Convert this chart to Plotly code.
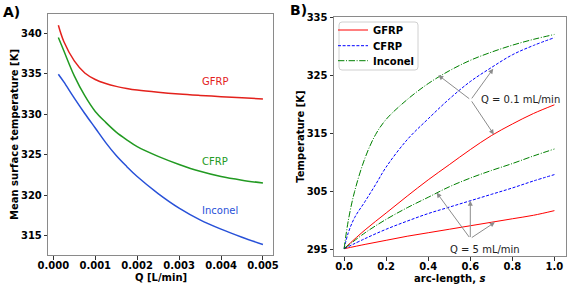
import plotly.graph_objects as go

# ---------------- Panel A data ----------------
q_lpm = [0.00012, 0.00025, 0.0005, 0.00075, 0.001, 0.00125, 0.0015, 0.00175,
         0.002, 0.0025, 0.003, 0.0035, 0.004, 0.0045, 0.005]
gfrp_mean = [341.0, 339.0, 336.6, 335.1, 334.3, 333.8, 333.45, 333.2,
             333.0, 332.72, 332.5, 332.33, 332.18, 332.04, 331.9]
cfrp_mean = [339.5, 337.85, 334.75, 332.3, 330.35, 329.0, 327.8, 326.85,
             326.0, 324.8, 323.8, 322.95, 322.3, 321.85, 321.5]
inconel_mean = [334.95, 334.0, 332.0, 330.1, 328.3, 326.5, 324.9, 323.55,
                322.3, 320.2, 318.4, 316.95, 315.8, 314.8, 313.9]
label_names = ["GFRP", "CFRP", "Inconel"]
label_x = [0.0035, 0.0035, 0.0035]
label_y = [334.1, 324.15, 318.1]

# ---------------- Panel B data ----------------
s_fine = [0, 0.02, 0.05, 0.1, 0.15, 0.2, 0.3, 0.4, 0.5, 0.6, 0.7, 0.8, 0.9, 1.0]
inconel_q01 = [295.15, 300.0, 305.0, 310.8, 314.8, 317.4, 320.8, 323.55,
               325.75, 327.55, 328.95, 330.15, 331.15, 332.0]
cfrp_q01 = [295.15, 297.9, 300.5, 303.3, 306.2, 309.2, 313.9, 317.5,
            320.9, 323.9, 326.3, 328.5, 330.1, 331.45]
s_coarse = [0, 0.1, 0.2, 0.3, 0.4, 0.5, 0.6, 0.7, 0.8, 0.9, 1.0]
gfrp_q01 = [295.15, 298.4, 301.3, 304.2, 307.0, 309.6, 312.2, 314.6,
            316.6, 318.4, 319.9]
inconel_q5 = [295.15, 297.9, 300.2, 302.2, 304.0, 305.8, 307.3, 308.6,
              309.8, 311.1, 312.3]
cfrp_q5 = [295.15, 296.9, 298.5, 299.9, 301.2, 302.3, 303.4, 304.5,
           305.6, 306.8, 307.9]
gfrp_q5 = [295.15, 295.9, 296.6, 297.3, 297.9, 298.5, 299.1, 299.7,
           300.3, 300.9, 301.7]

ann_q01_text = "Q = 0.1 mL/min"
ann_q01_origin = (0.602, 320.75)
ann_q01_tips = [(0.448, 325.0), (0.709, 326.1), (0.712, 314.8)]
ann_q5_text = "Q = 5 mL/min"
ann_q5_origin = (0.6, 296.9)
ann_q5_tips = [(0.44, 304.8), (0.6, 303.4), (0.717, 299.7)]

FONT = "DejaVu Sans"
c_red_a, c_green_a, c_blue_a = "#e3211c", "#229a22", "#2851d8"
c_red_b, c_blue_b, c_green_b = "#ff0000", "#0000ff", "#008000"
DASH = "3px,1.6px"
DASHDOT = "6.4px,1.6px,1px,1.6px"
W, H = 571, 286

fig = go.Figure()

# Panel A lines
for y, col in [(gfrp_mean, c_red_a), (cfrp_mean, c_green_a), (inconel_mean, c_blue_a)]:
    fig.add_trace(go.Scatter(x=q_lpm, y=y, mode="lines",
                             line=dict(color=col, width=1.5, shape="spline", smoothing=1.0),
                             xaxis="x", yaxis="y", showlegend=False))

# Panel B lines
fig.add_trace(go.Scatter(x=s_coarse, y=gfrp_q01, mode="lines", name="GFRP",
                         line=dict(color=c_red_b, width=1, shape="spline"),
                         xaxis="x2", yaxis="y2", legend="legend"))
fig.add_trace(go.Scatter(x=s_fine, y=cfrp_q01, mode="lines", name="CFRP",
                         line=dict(color=c_blue_b, width=1, dash=DASH, shape="spline"),
                         xaxis="x2", yaxis="y2", legend="legend2"))
fig.add_trace(go.Scatter(x=s_fine, y=inconel_q01, mode="lines", name="Inconel",
                         line=dict(color=c_green_b, width=1, dash=DASHDOT, shape="spline"),
                         xaxis="x2", yaxis="y2", legend="legend3"))
fig.add_trace(go.Scatter(x=s_coarse, y=gfrp_q5, mode="lines", showlegend=False,
                         line=dict(color=c_red_b, width=1, shape="spline"),
                         xaxis="x2", yaxis="y2"))
fig.add_trace(go.Scatter(x=s_coarse, y=cfrp_q5, mode="lines", showlegend=False,
                         line=dict(color=c_blue_b, width=1, dash=DASH, shape="spline"),
                         xaxis="x2", yaxis="y2"))
fig.add_trace(go.Scatter(x=s_coarse, y=inconel_q5, mode="lines", showlegend=False,
                         line=dict(color=c_green_b, width=1, dash=DASHDOT, shape="spline"),
                         xaxis="x2", yaxis="y2"))

annotations = []
for name, x, y, col in zip(label_names, label_x, label_y, [c_red_a, c_green_a, c_blue_a]):
    annotations.append(dict(x=x, y=y, xref="x", yref="y", text=name, showarrow=False,
                            xanchor="left", yanchor="middle",
                            font=dict(family=FONT, size=10, color=col)))

for origin, tips in [(ann_q01_origin, ann_q01_tips), (ann_q5_origin, ann_q5_tips)]:
    for tx, ty in tips:
        annotations.append(dict(x=tx, y=ty, ax=origin[0], ay=origin[1], xref="x2", yref="y2",
                                axref="x2", ayref="y2", text="", showarrow=True,
                                arrowhead=2, arrowsize=1, arrowwidth=1, arrowcolor="#8c8c8c",
                                standoff=0, startstandoff=0))
annotations.append(dict(x=0.643, y=320.8, xref="x2", yref="y2", text=ann_q01_text,
                        showarrow=False, xanchor="left", yanchor="middle",
                        font=dict(family=FONT, size=10, color="#222")))
annotations.append(dict(x=0.67, y=295.1, xref="x2", yref="y2", text=ann_q5_text,
                        showarrow=False, xanchor="center", yanchor="middle",
                        font=dict(family=FONT, size=10, color="#222")))
annotations.append(dict(x=11 / W, y=1 - 11.5 / H, xref="paper", yref="paper", text="<b>A)</b>",
                        showarrow=False, xanchor="center", yanchor="middle",
                        font=dict(family=FONT, size=14, color="black")))
annotations.append(dict(x=298 / W, y=1 - 10 / H, xref="paper", yref="paper", text="<b>B)</b>",
                        showarrow=False, xanchor="center", yanchor="middle",
                        font=dict(family=FONT, size=14, color="black")))
# x-axis titles
annotations.append(dict(x=160.5 / W, y=1 - 277 / H, xref="paper", yref="paper",
                        text="<b>Q [L/min]</b>", showarrow=False, xanchor="center",
                        yanchor="middle", font=dict(family=FONT, size=10, color="black")))
annotations.append(dict(x=449 / W, y=1 - 278 / H, xref="paper", yref="paper",
                        text="<b>arc-length, <i>s</i></b>", showarrow=False, xanchor="center",
                        yanchor="middle", font=dict(family=FONT, size=10, color="black")))

tickfont = dict(family=FONT, size=10, color="black", weight="bold")
titlefont = dict(family=FONT, size=10, color="black", weight="bold")
axis_common = dict(showline=True, linecolor="#8a8a8a", linewidth=1, mirror=True,
                   ticks="outside", ticklen=3.5, tickwidth=0.8, tickcolor="#333",
                   showgrid=False, zeroline=False, tickfont=tickfont, automargin=False)

legend_font = dict(family=FONT, size=10, color="black", weight="bold")


def leg(ycenter):
    return dict(x=333 / W, y=1 - ycenter / H, xanchor="left", yanchor="middle",
                bgcolor="rgba(0,0,0,0)", borderwidth=0, font=legend_font, itemwidth=30)


# rounded legend frame (paper coordinates)
lx0, lx1, ly0, ly1 = 339 / W, 418 / W, 1 - 70 / H, 1 - 22 / H
rx, ry = 3 / W, 3 / H
frame_path = (f"M {lx0 + rx} {ly1} L {lx1 - rx} {ly1} Q {lx1} {ly1} {lx1} {ly1 - ry} "
              f"L {lx1} {ly0 + ry} Q {lx1} {ly0} {lx1 - rx} {ly0} "
              f"L {lx0 + rx} {ly0} Q {lx0} {ly0} {lx0} {ly0 + ry} "
              f"L {lx0} {ly1 - ry} Q {lx0} {ly1} {lx0 + rx} {ly1} Z")

fig.update_layout(
    width=W, height=H,
    margin=dict(l=0, r=0, t=0, b=0),
    paper_bgcolor="white", plot_bgcolor="white",
    font=dict(family=FONT, size=10, color="black"),
    xaxis=dict(domain=[48.3 / W, 273 / W], range=[-0.00012, 0.00524],
               tickvals=[0, 0.001, 0.002, 0.003, 0.004, 0.005],
               ticktext=["0.000", "0.001", "0.002", "0.003", "0.004", "0.005"],
               ticklabelstandoff=-3, anchor="y", **axis_common),
    yaxis=dict(domain=[31 / H, 272 / H], range=[312.6, 342.4],
               tickvals=[315, 320, 325, 330, 335, 340],
               title=dict(text="Mean surface temperature [K]", font=titlefont, standoff=0),
               anchor="x", **axis_common),
    xaxis2=dict(domain=[334 / W, 566 / W], range=[-0.048, 1.055],
                tickvals=[0, 0.2, 0.4, 0.6, 0.8, 1.0],
                ticktext=["0.0", "0.2", "0.4", "0.6", "0.8", "1.0"],
                ticklabelstandoff=-3, anchor="y2", **axis_common),
    yaxis2=dict(domain=[30 / H, 269 / H], range=[293.9, 335],
                tickvals=[295, 305, 315, 325, 335],
                title=dict(text="Temperature [K]", font=titlefont, standoff=0),
                anchor="x2", **axis_common),
    legend=leg(30),
    legend2=leg(45.7),
    legend3=leg(60.7),
    shapes=[dict(type="path", xref="paper", yref="paper", path=frame_path,
                 line=dict(color="#d0d0d0", width=1), fillcolor="rgba(255,255,255,0.85)",
                 layer="above")],
    annotations=annotations,
    showlegend=True,
)

fig.write_html("out.html", config={"displayModeBar": False},
               post_script="document.body.style.margin='0';document.body.style.padding='0';")
